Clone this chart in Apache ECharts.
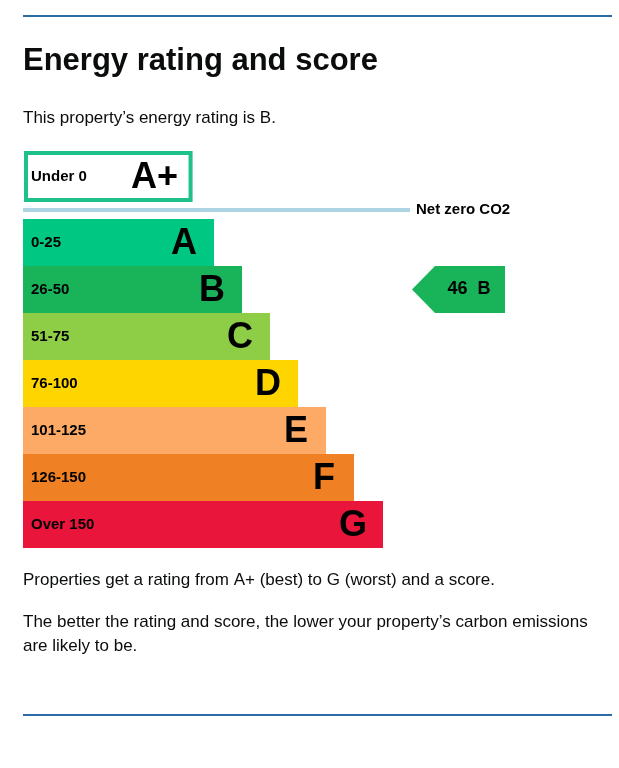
<!DOCTYPE html>
<html><head><meta charset="utf-8">
<script src="https://cdn.jsdelivr.net/npm/echarts@6/dist/echarts.min.js"></script>
<style>html,body{margin:0;padding:0;background:#fff}#c{width:619px;height:768px}</style>
</head><body><div id="c"></div>
<script>
// ---- data ----
const topRatingCategory = ['A+'];
const topRatingRange = ['Under 0'];
const topRatingLength = [168];
const ratings = ['A', 'B', 'C', 'D', 'E', 'F', 'G'];
const scoreRanges = ['0-25', '26-50', '51-75', '76-100', '101-125', '126-150', 'Over 150'];
const barLengths = [191, 219, 247, 275, 303, 331, 360];
const bandColors = ['#00c781', '#19b459', '#8dce46', '#ffd500', '#fcaa65', '#ef8023', '#e9153b'];
const currentScore = 46;
const currentRating = 'B';

// ---- layout ----
const AXIS_MAX = 589;
const ARROW_TIP = 389;
const TEXT = '#0b0c0c';
const bodyFont = '17px "Liberation Sans", Arial, sans-serif';
const boldLabel = 'bold 15px "Liberation Sans", Arial, sans-serif';

const chart = echarts.init(document.getElementById('c'), null, {renderer: 'canvas'});

const rangeSeries = (data, names, xi, color, border) => ({
  type: 'bar', xAxisIndex: xi, yAxisIndex: xi, barWidth: '100%', silent: true,
  data: data.map((v, i) => ({
    value: v,
    itemStyle: border ? {color: '#fff', borderColor: color, borderWidth: 4} : {color: color[i]}
  })),
  label: {
    show: true, position: 'insideLeft', distance: xi === 0 ? 7 : 8,
    formatter: p => names[p.dataIndex],
    color: '#000', fontFamily: '"Liberation Sans", Arial, sans-serif', fontWeight: 'bold', fontSize: 15
  },
  animation: false
});
const letterSeries = (data, letters, xi, dist) => ({
  type: 'bar', xAxisIndex: xi, yAxisIndex: xi, barWidth: '100%', barGap: '-100%', silent: true,
  data: data,
  itemStyle: {color: 'rgba(0,0,0,0)'},
  label: {
    show: true, position: 'insideRight', distance: dist, align: 'center', offset: [0, 2],
    formatter: p => letters[p.dataIndex],
    color: '#000', fontFamily: '"Liberation Sans", Arial, sans-serif', fontWeight: 'bold', fontSize: 36
  },
  animation: false
});

const ratingIdx = ratings.indexOf(currentRating);

chart.setOption({
  animation: false,
  backgroundColor: '#fff',
  grid: [
    {left: 24, right: 4, top: 151, height: 51},
    {left: 23, right: 7, top: 219, height: 329}
  ],
  xAxis: [
    {gridIndex: 0, type: 'value', min: 0, max: AXIS_MAX, show: false},
    {gridIndex: 1, type: 'value', min: 0, max: AXIS_MAX, show: false}
  ],
  yAxis: [
    {gridIndex: 0, type: 'category', data: topRatingCategory, inverse: true, show: false},
    {gridIndex: 1, type: 'category', data: ratings, inverse: true, show: false}
  ],
  series: [
    rangeSeries(topRatingLength, topRatingRange, 0, '#1ec18a', true),
    letterSeries(topRatingLength, topRatingCategory, 0, 38),
    rangeSeries(barLengths, scoreRanges, 1, bandColors, false),
    letterSeries(barLengths, ratings, 1, 30),
    {
      type: 'custom', xAxisIndex: 1, yAxisIndex: 1, silent: true,
      data: [[currentScore, ratingIdx]],
      renderItem: (params, api) => {
        const c = api.coord([ARROW_TIP, api.value(1)]);
        const h = api.size([0, 1])[1];
        const x0 = c[0], yc = c[1], y0 = yc - h / 2, y1 = yc + h / 2;
        return {
          type: 'group',
          children: [
            {type: 'polygon', shape: {points: [[x0, yc], [x0 + 23, y0], [x0 + 93, y0], [x0 + 93, y1], [x0 + 23, y1]]},
             style: {fill: bandColors[api.value(1)]}},
            {type: 'text', style: {text: api.value(0) + '  ' + currentRating, x: x0 + 57, y: yc,
              textAlign: 'center', textVerticalAlign: 'middle',
              font: 'bold 18px "Liberation Sans", Arial, sans-serif', fill: '#000'}}
          ]
        };
      }
    }
  ],
  graphic: [
    {type: 'rect', shape: {x: 23, y: 15, width: 589, height: 2}, style: {fill: '#2a6ca3'}},
    {type: 'text', style: {text: 'Energy rating and score', x: 23, y: 61, textVerticalAlign: 'middle',
      font: 'bold 31px "Liberation Sans", Arial, sans-serif', fill: TEXT}},
    {type: 'text', style: {text: 'This property\u2019s energy rating is B.', x: 23, y: 118, textVerticalAlign: 'middle',
      font: bodyFont, fill: TEXT}},
    {type: 'rect', shape: {x: 23, y: 208, width: 387, height: 4}, style: {fill: '#add4e3'}},
    {type: 'text', style: {text: 'Net zero CO2', x: 416, y: 210, textVerticalAlign: 'middle',
      font: boldLabel, fill: '#000'}},
    {type: 'text', style: {text: 'Properties get a rating from A+ (best) to G (worst) and a score.', x: 23, y: 580,
      textVerticalAlign: 'middle', font: bodyFont, fill: TEXT}},
    {type: 'text', style: {text: 'The better the rating and score, the lower your property\u2019s carbon emissions', x: 23, y: 622,
      textVerticalAlign: 'middle', font: bodyFont, fill: TEXT}},
    {type: 'text', style: {text: 'are likely to be.', x: 23, y: 646,
      textVerticalAlign: 'middle', font: bodyFont, fill: TEXT}},
    {type: 'rect', shape: {x: 23, y: 714, width: 589, height: 2}, style: {fill: '#2a6ca3'}}
  ]
});
</script></body></html>
